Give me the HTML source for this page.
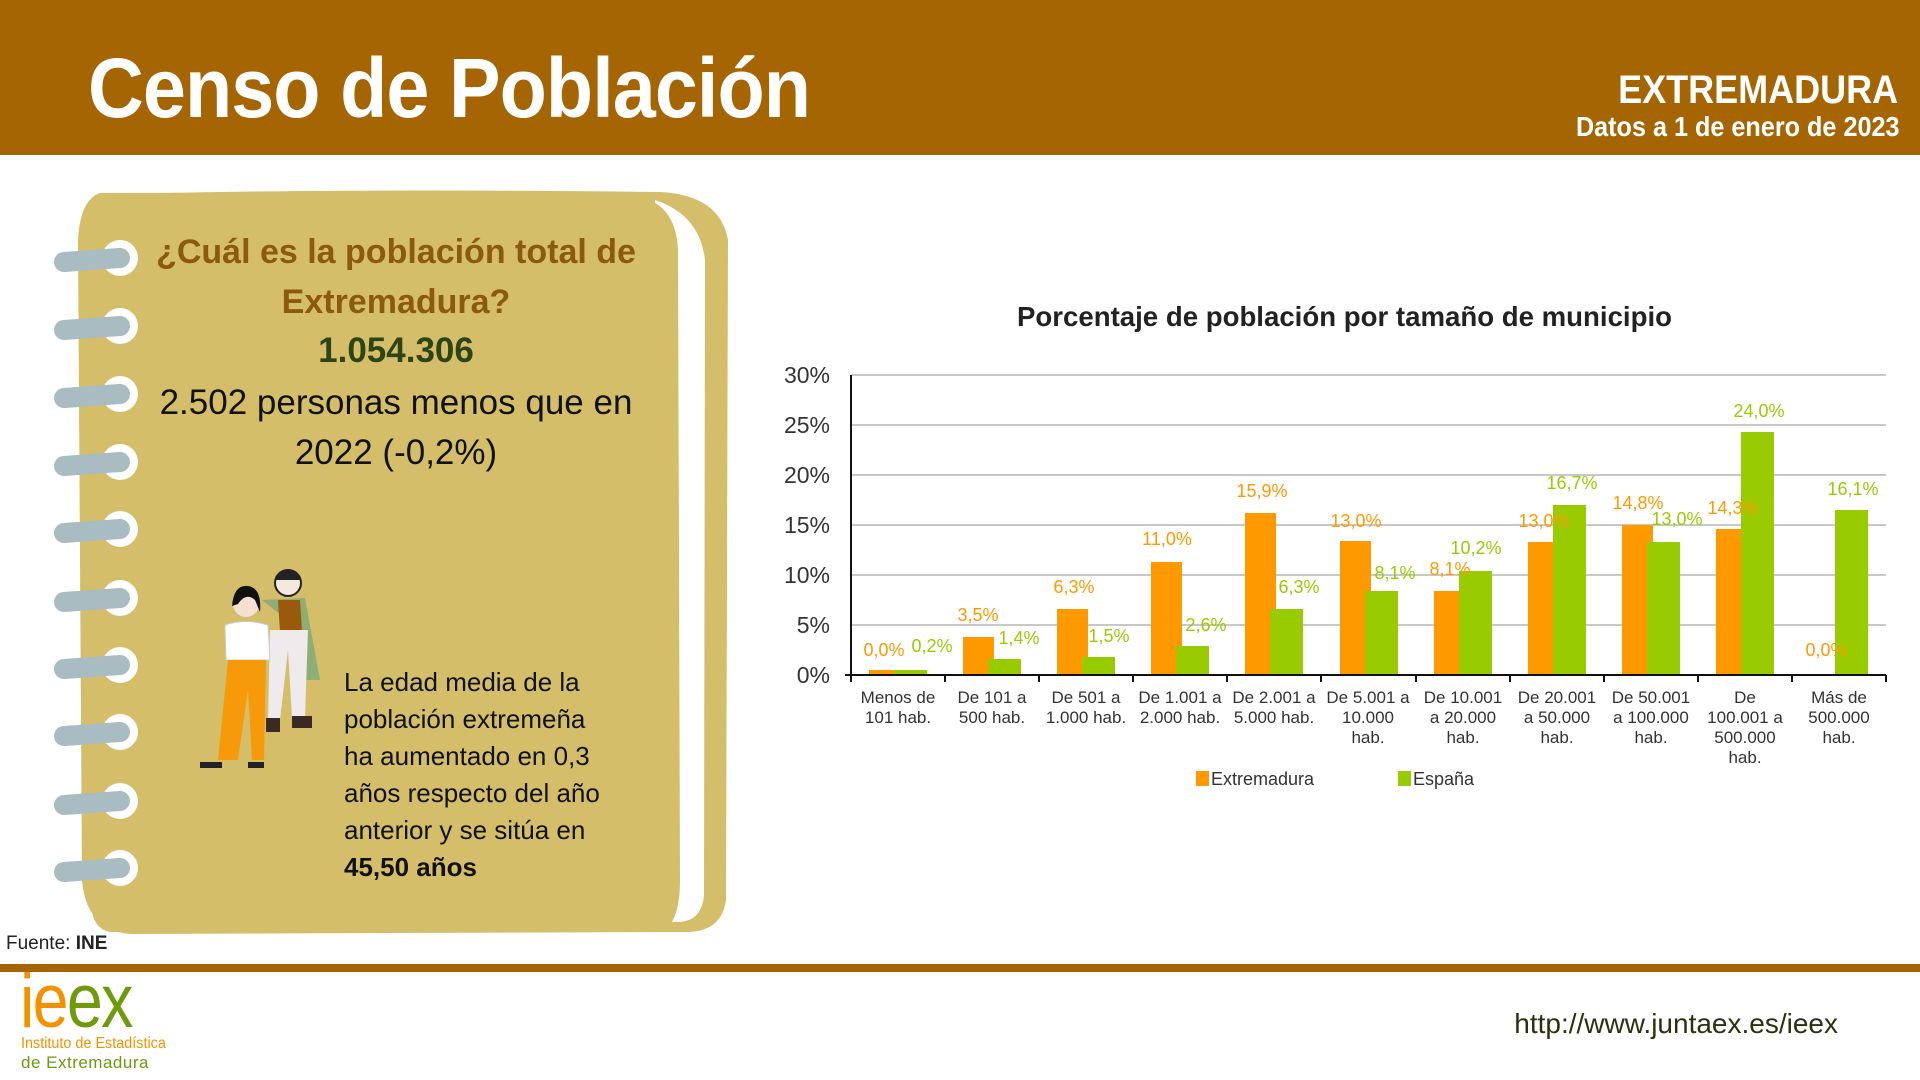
<!DOCTYPE html>
<html><head><meta charset="utf-8"><style>
body{margin:0;width:1920px;height:1080px;position:relative;background:#fff;overflow:hidden;font-family:"Liberation Sans",sans-serif}
.a{position:absolute;white-space:nowrap}
</style></head><body>
<div class="a" style="left:0;top:0;width:1920px;height:155px;background:#a66503"></div>
<div class="a" style="left:88px;top:40px;font-size:84px;font-weight:bold;color:#fff;letter-spacing:-1px;transform:scaleX(0.92);transform-origin:left">Censo de Población</div>
<div class="a" style="right:22px;top:68px;font-size:40px;font-weight:bold;color:#fff;transform:scaleX(0.9);transform-origin:right">EXTREMADURA</div>
<div class="a" style="right:20px;top:111px;font-size:28px;font-weight:bold;color:#fff;transform:scaleX(0.9);transform-origin:right">Datos a 1 de enero de 2023</div>

<svg class="a" style="left:0;top:0" width="760" height="960">
<path d="M95 195 Q300 188 660 192 Q720 195 728 240 L726 900 Q722 930 690 932 L110 932 Q90 928 92 900 Z" fill="#d4be6a"/>
<path d="M655 200 Q700 215 705 260 L704 895 Q702 920 680 922 L660 922 Z" fill="#fff"/>
<path d="M100 193 Q80 200 78 240 L82 880 Q86 930 130 934 L660 932 Q680 925 680 880 L678 250 Q676 205 640 197 Q400 192 100 193 Z" fill="#d4be6a"/>
<g fill="#fff">
<circle cx="120" cy="258" r="18"/><circle cx="120" cy="326" r="18"/><circle cx="120" cy="394" r="18"/><circle cx="120" cy="462" r="18"/><circle cx="120" cy="529" r="18"/><circle cx="120" cy="598" r="18"/><circle cx="120" cy="665" r="18"/><circle cx="120" cy="732" r="18"/><circle cx="120" cy="801" r="18"/><circle cx="120" cy="868" r="18"/>
</g>
<g stroke="#a9bcc2" stroke-width="20" stroke-linecap="round">
<line x1="64" y1="262" x2="120" y2="258"/><line x1="64" y1="330" x2="120" y2="326"/><line x1="64" y1="398" x2="120" y2="394"/><line x1="64" y1="466" x2="120" y2="462"/><line x1="64" y1="533" x2="120" y2="529"/><line x1="64" y1="602" x2="120" y2="598"/><line x1="64" y1="669" x2="120" y2="665"/><line x1="64" y1="736" x2="120" y2="732"/><line x1="64" y1="805" x2="120" y2="801"/><line x1="64" y1="872" x2="120" y2="868"/>
</g>
<circle cx="288" cy="583" r="13" fill="#f3e9df" stroke="#222" stroke-width="2"/><path d="M275 580 Q288 560 301 580 Z" fill="#222"/>
<path d="M262 600 L305 598 L320 680 L305 680 L300 630 Z" fill="#8fae75"/>
<path d="M278 600 L300 600 L302 630 L280 632 Z" fill="#9a5a0c"/>
<path d="M270 630 L308 630 L305 718 L292 718 L288 650 L280 720 L268 720 Z" fill="#efeaec"/>
<rect x="266" y="718" width="14" height="14" fill="#3a2a22"/><rect x="292" y="716" width="20" height="12" fill="#3a2a22"/>
<circle cx="246" cy="604" r="13" fill="#f3e0d0"/><path d="M232 606 Q234 584 248 586 Q262 588 260 612 L255 600 Q246 592 238 604 Z" fill="#111"/>
<path d="M225 625 Q246 618 268 625 L270 660 L226 660 Z" fill="#fff" stroke="#ccc"/>
<path d="M228 660 L266 660 L264 760 L252 760 L248 690 L238 760 L218 760 Z" fill="#f79a0a"/>
<rect x="200" y="762" width="22" height="6" fill="#222"/><rect x="248" y="762" width="16" height="6" fill="#222"/>
</svg>
<div class="a" style="left:396px;top:227px;transform:translateX(-50%);text-align:center;font-size:34px;font-weight:bold;color:#8b5a0f;line-height:50px">¿Cuál es la población total de<br>Extremadura?</div>
<div class="a" style="left:396px;top:331px;transform:translateX(-50%);font-size:35px;font-weight:bold;color:#2e4412">1.054.306</div>
<div class="a" style="left:396px;top:378px;transform:translateX(-50%);text-align:center;font-size:35px;color:#111;line-height:50px">2.502 personas menos que en<br>2022 (-0,2%)</div>
<div class="a" style="left:344px;top:664px;font-size:26px;color:#111;line-height:37px">La edad media de la<br>población extremeña<br>ha aumentado en 0,3<br>años respecto del año<br>anterior y se sitúa en<br><b>45,50 años</b></div>
<div class="a" style="left:6px;top:933px;font-size:19px;color:#222">Fuente: <b>INE</b></div>
<div class="a" style="left:0;top:964px;width:1920px;height:8px;background:#a66503"></div>
<div class="a" style="left:20px;top:962px;font-size:76px;line-height:80px;letter-spacing:-2px;transform:scaleX(0.85);transform-origin:left"><span style="color:#f39200">ie</span><span style="color:#6e9a0c">ex</span></div>
<div class="a" style="left:21px;top:1034px;font-size:16px;color:#f39200;line-height:19px;transform:scaleX(0.9);transform-origin:left">Instituto de Estadística</div>
<div class="a" style="left:21px;top:1053px;font-size:17px;color:#6e9a0c;line-height:19px;letter-spacing:0.5px">de Extremadura</div>
<div class="a" style="right:82px;top:1008px;font-size:28px;color:#2b3110">http://www.juntaex.es/ieex</div>

<svg class="a" style="left:0;top:0" width="1920" height="1080" font-family="Liberation Sans, sans-serif">
<text x="1017" y="326" font-size="28" font-weight="bold" fill="#222" textLength="655" lengthAdjust="spacingAndGlyphs">Porcentaje de población por tamaño de municipio</text>
<g stroke="#c8c8c8" stroke-width="2">
<line x1="851" y1="375" x2="1886" y2="375"/><line x1="851" y1="425" x2="1886" y2="425"/><line x1="851" y1="475" x2="1886" y2="475"/><line x1="851" y1="525" x2="1886" y2="525"/><line x1="851" y1="575" x2="1886" y2="575"/><line x1="851" y1="625" x2="1886" y2="625"/>
</g>
<g font-size="23" fill="#333" text-anchor="end">
<text x="830" y="383">30%</text><text x="830" y="433">25%</text><text x="830" y="483">20%</text><text x="830" y="533">15%</text><text x="830" y="583">10%</text><text x="830" y="633">5%</text><text x="830" y="683">0%</text>
</g>
<g fill="#ff9900">
<rect x="869" y="670" width="31" height="5"/><rect x="963" y="637" width="31" height="38"/><rect x="1057" y="609" width="31" height="66"/><rect x="1151" y="562" width="31" height="113"/><rect x="1245" y="513" width="31" height="162"/><rect x="1340" y="541" width="31" height="134"/><rect x="1434" y="591" width="31" height="84"/><rect x="1528" y="542" width="31" height="133"/><rect x="1622" y="525" width="31" height="150"/><rect x="1716" y="529" width="31" height="146"/>
</g>
<g fill="#99cc00">
<rect x="894" y="670" width="33" height="5"/><rect x="988" y="659" width="33" height="16"/><rect x="1082" y="657" width="33" height="18"/><rect x="1176" y="646" width="33" height="29"/><rect x="1270" y="609" width="33" height="66"/><rect x="1365" y="591" width="33" height="84"/><rect x="1459" y="571" width="33" height="104"/><rect x="1553" y="505" width="33" height="170"/><rect x="1647" y="542" width="33" height="133"/><rect x="1741" y="432" width="33" height="243"/><rect x="1835" y="510" width="33" height="165"/>
</g>
<g stroke="#111" stroke-width="2">
<line x1="851" y1="375" x2="851" y2="682"/><line x1="845" y1="675" x2="1886" y2="675"/>
<line x1="945" y1="675" x2="945" y2="682"/><line x1="1039" y1="675" x2="1039" y2="682"/><line x1="1133" y1="675" x2="1133" y2="682"/><line x1="1227" y1="675" x2="1227" y2="682"/><line x1="1321" y1="675" x2="1321" y2="682"/><line x1="1416" y1="675" x2="1416" y2="682"/><line x1="1510" y1="675" x2="1510" y2="682"/><line x1="1604" y1="675" x2="1604" y2="682"/><line x1="1698" y1="675" x2="1698" y2="682"/><line x1="1792" y1="675" x2="1792" y2="682"/><line x1="1886" y1="675" x2="1886" y2="682"/>
</g>
<g font-size="18" fill="#ff9900" text-anchor="middle" dominant-baseline="central">
<text x="884" y="650">0,0%</text><text x="978" y="615">3,5%</text><text x="1074" y="587">6,3%</text><text x="1167" y="539">11,0%</text><text x="1262" y="491">15,9%</text><text x="1356" y="521">13,0%</text><text x="1450" y="569">8,1%</text><text x="1544" y="521">13,0%</text><text x="1638" y="503">14,8%</text><text x="1733" y="508">14,3%</text><text x="1826" y="650">0,0%</text>
</g>
<g font-size="18" fill="#99cc00" text-anchor="middle" dominant-baseline="central">
<text x="932" y="646">0,2%</text><text x="1019" y="638">1,4%</text><text x="1109" y="636">1,5%</text><text x="1206" y="625">2,6%</text><text x="1299" y="587">6,3%</text><text x="1395" y="573">8,1%</text><text x="1476" y="548">10,2%</text><text x="1572" y="483">16,7%</text><text x="1677" y="519">13,0%</text><text x="1759" y="411">24,0%</text><text x="1853" y="489">16,1%</text>
</g>
<g font-size="17" fill="#333" text-anchor="middle">
<text x="898" y="703">Menos de</text><text x="898" y="723">101 hab.</text>
<text x="992" y="703">De 101 a</text><text x="992" y="723">500 hab.</text>
<text x="1086" y="703">De 501 a</text><text x="1086" y="723">1.000 hab.</text>
<text x="1180" y="703">De 1.001 a</text><text x="1180" y="723">2.000 hab.</text>
<text x="1274" y="703">De 2.001 a</text><text x="1274" y="723">5.000 hab.</text>
<text x="1368" y="703">De 5.001 a</text><text x="1368" y="723">10.000</text><text x="1368" y="743">hab.</text>
<text x="1463" y="703">De 10.001</text><text x="1463" y="723">a 20.000</text><text x="1463" y="743">hab.</text>
<text x="1557" y="703">De 20.001</text><text x="1557" y="723">a 50.000</text><text x="1557" y="743">hab.</text>
<text x="1651" y="703">De 50.001</text><text x="1651" y="723">a 100.000</text><text x="1651" y="743">hab.</text>
<text x="1745" y="703">De</text><text x="1745" y="723">100.001 a</text><text x="1745" y="743">500.000</text><text x="1745" y="763">hab.</text>
<text x="1839" y="703">Más de</text><text x="1839" y="723">500.000</text><text x="1839" y="743">hab.</text>
</g>
<rect x="1196" y="771" width="13" height="15" fill="#ff9900"/><text x="1211" y="785" font-size="18" fill="#333">Extremadura</text>
<rect x="1398" y="771" width="13" height="15" fill="#99cc00"/><text x="1413" y="785" font-size="18" fill="#333">España</text>
</svg>
</body></html>
